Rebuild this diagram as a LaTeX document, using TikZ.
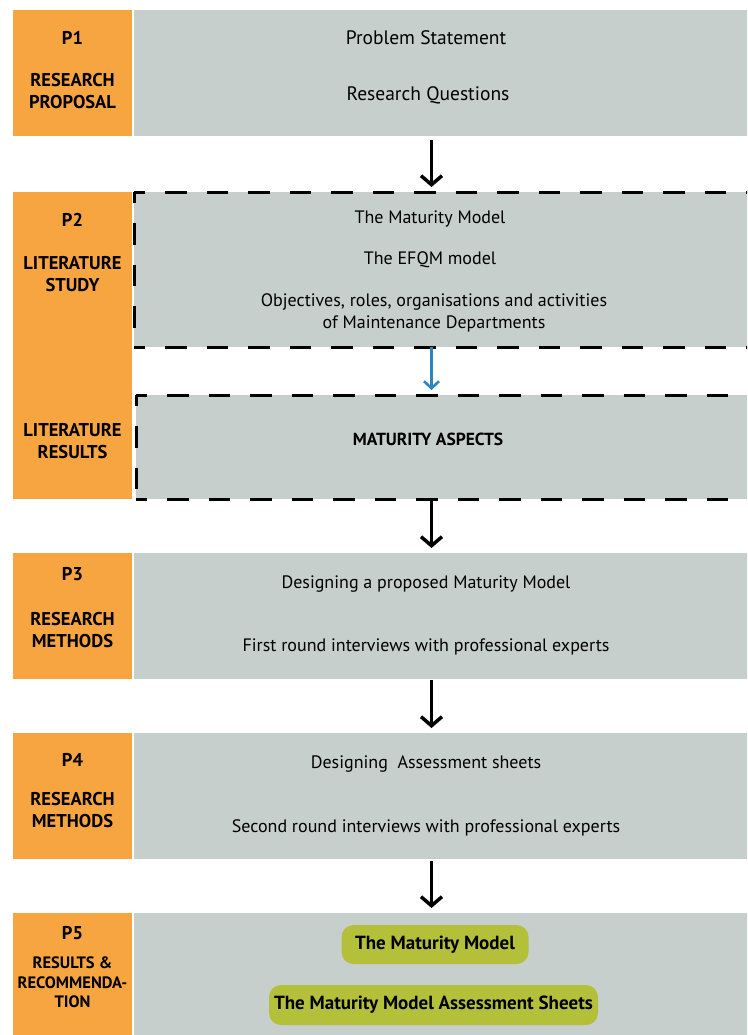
\documentclass[tikz,border=0pt]{standalone}
\usepackage{fontspec}
\setmainfont{PT Sans}
\usetikzlibrary{arrows.meta,calc}
\definecolor{phaseorange}{HTML}{F7A541}
\definecolor{panelgray}{HTML}{C7CFCC}
\definecolor{pillgreen}{HTML}{B4BF3A}
\definecolor{flowblue}{HTML}{2B86C0}
\begin{document}
\begin{tikzpicture}[x=1pt,y=-1pt,
  phase/.style={fill=phaseorange, draw=none, inner sep=0pt, outer sep=0pt, anchor=north west},
  panel/.style={fill=panelgray, draw=none, inner sep=0pt, outer sep=0pt, anchor=north west},
  tag/.style={font=\bfseries\fontsize{18.5}{22}\selectfont, align=center, inner sep=0pt},
  smalltag/.style={font=\bfseries\fontsize{16.5}{19.5}\selectfont, align=center, inner sep=0pt},
  ptag/.style={font=\bfseries\fontsize{18.5}{22}\selectfont, inner sep=0pt},
  body/.style={font=\fontsize{18}{22}\selectfont, align=center, inner sep=0pt},
  bigbody/.style={font=\fontsize{19.5}{22}\selectfont, align=center, inner sep=0pt},
  bodybold/.style={font=\bfseries\fontsize{17.5}{22}\selectfont, inner sep=0pt},
  pill/.style={fill=pillgreen, rounded corners=12pt, inner sep=0pt,
    font=\bfseries\fontsize{19}{22}\selectfont},
  flow/.style={line width=3.5pt, -{Straight Barb[length=9pt,width=21pt]}},
  litflow/.style={flowblue, line width=2.6pt, -{Straight Barb[length=7pt,width=15pt]}},
  edge/.style={line width=3pt, dash pattern=on 21.5pt off 20pt, dash phase=10.5pt}
]
\clip (0,0) rectangle (747,1035);
\fill[white] (0,0) rectangle (747,1035);

% vertical axis of the flow arrows
\coordinate (axis) at (431.5,0);

% ---- P1
\node[phase, minimum width=119pt, minimum height=126pt] (o1) at (13,10) {};
\node[panel, minimum width=620pt, minimum height=126pt] (g1) at (134,10) {};
\node[ptag] (p1) at (72.5,38) {P1};
\node[tag] (l1) at (72.5,91) {RESEARCH\\PROPOSAL};
\node[bigbody] (t1a) at (426,38) {Problem Statement};
\node[bigbody] (t1b) at (428,95) {Research Questions};

% ---- P2
\node[phase, minimum width=119pt, minimum height=307pt] (o2) at (13,192) {};
\node[panel, minimum width=620pt, minimum height=155pt] (g2) at (134,192) {};
\node[panel, minimum width=620pt, minimum height=104pt] (g2b) at (136,395) {};
\draw[edge] (g2.north west) -- (g2.north east);
\draw[edge] (g2.south west) -- (g2.south east);
\draw[edge] (g2.north west) -- (g2.south west);
\draw[edge] (g2b.north west) -- (g2b.north east);
\draw[edge] (g2b.south west) -- (g2b.south east);
\draw[edge] (g2b.north west) -- (g2b.south west);
\node[ptag] (p2) at (72.5,220) {P2};
\node[tag] (l2) at (72.5,274.5) {LITERATURE\\STUDY};
\node[tag] (l2b) at (72.5,441) {LITERATURE\\RESULTS};
\node[body] (t2a) at (430,219) {The Maturity Model};
\node[body] (t2b) at (430,260) {The EFQM model};
\node[body] (t2c) at (434,313) {Objectives, roles, organisations and activities\\of Maintenance Departments};
\node[bodybold] (t2d) at (428,439) {MATURITY ASPECTS};

% ---- P3
\node[phase, minimum width=119pt, minimum height=126pt] (o3) at (13,553) {};
\node[panel, minimum width=620pt, minimum height=126pt] (g3) at (134,553) {};
\node[ptag] (p3) at (72.5,574) {P3};
\node[tag] (l3) at (72.5,630) {RESEARCH\\METHODS};
\node[body] (t3a) at (426,584) {Designing a proposed Maturity Model};
\node[body] (t3b) at (426,647) {First round interviews with professional experts};

% ---- P4
\node[phase, minimum width=119pt, minimum height=126pt] (o4) at (13,733) {};
\node[panel, minimum width=620pt, minimum height=126pt] (g4) at (134,733) {};
\node[ptag] (p4) at (72.5,760) {P4};
\node[tag] (l4) at (72.5,810) {RESEARCH\\METHODS};
\node[body] (t4a) at (426,764) {Designing\ \ Assessment sheets};
\node[body] (t4b) at (426,828) {Second round interviews with professional experts};

% ---- P5
\node[phase, minimum width=119pt, minimum height=130pt] (o5) at (13,913) {};
\node[panel, minimum width=620pt, minimum height=130pt] (g5) at (134,913) {};
\node[ptag] (p5) at (72.5,933) {P5};
\node[smalltag] (l5) at (72.5,982.5) {RESULTS \&\\RECOMMENDA-\\TION};
\node[pill, minimum width=187pt, minimum height=39pt] (m1) at (435,944.5) {The Maturity Model};
\node[pill, minimum width=329pt, minimum height=40pt] (m2) at (433.5,1005) {The Maturity Model Assessment Sheets};

% ---- flow arrows
\draw[flow] (g1.south -| axis) ++(0,4) -- ($(g2.north -| axis)+(0,-5)$);
\draw[litflow] (g2.south -| axis) -- ($(g2b.north -| axis)+(0,-5)$);
\draw[flow] (g2b.south -| axis) -- ($(g3.north -| axis)+(0,-5)$);
\draw[flow] (g3.south -| axis) ++(0,1) -- ($(g4.north -| axis)+(0,-5)$);
\draw[flow] (g4.south -| axis) ++(0,2) -- ($(g5.north -| axis)+(0,-5)$);
\end{tikzpicture}
\end{document}
